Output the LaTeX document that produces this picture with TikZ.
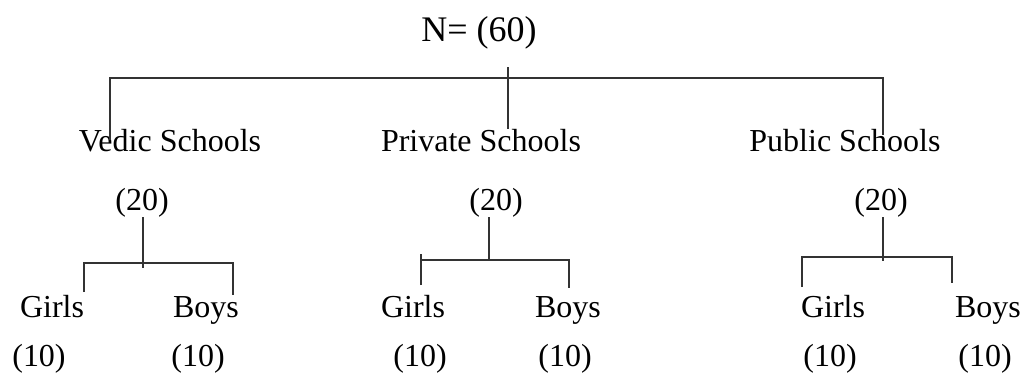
\documentclass[tikz,border=0pt]{standalone}
\usepackage{fontspec}
\setmainfont{Liberation Serif}
\usepackage{tikz}
\usetikzlibrary{calc, positioning}

\begin{document}
\begin{tikzpicture}[x=1pt, y=-1pt,
    lbl/.style={font=\fontsize{32}{36}\selectfont, inner sep=0pt, anchor=base},
    link/.style={draw=black!80, line width=1.2pt}]
    \useasboundingbox (0,0) rectangle (1021,376);

    % Tổng số mẫu
    \node[lbl, font=\fontsize{36}{40}\selectfont] (root) at (479,41) {N= (60)};

    % Ba loại trường
    \node[lbl] (vedic) at (170,151) {Vedic Schools};
    \node[lbl] (private) at (481,151) {Private Schools};
    \node[lbl] (public) at (845,151) {Public Schools};

    \node[lbl] (v20) at (142,210) {(20)};
    \node[lbl] (p20) at (496,210) {(20)};
    \node[lbl] (u20) at (881,210) {(20)};

    % Nam và nữ
    \node[lbl] (vg) at (52,317) {Girls};
    \node[lbl] (vb) at (206,317) {Boys};
    \node[lbl] (pg) at (413,317) {Girls};
    \node[lbl] (pb) at (568,317) {Boys};
    \node[lbl] (ug) at (833,317) {Girls};
    \node[lbl] (ub) at (988,317) {Boys};

    \node[lbl] (vg10) at (39,366) {(10)};
    \node[lbl] (vb10) at (198,366) {(10)};
    \node[lbl] (pg10) at (420,366) {(10)};
    \node[lbl] (pb10) at (565,366) {(10)};
    \node[lbl] (ug10) at (830,366) {(10)};
    \node[lbl] (ub10) at (985,366) {(10)};

    % Nhánh trên cùng
    \coordinate (rstem) at (508,67);
    \coordinate (topbar) at (508,78);
    \coordinate (lend) at (110,140);
    \coordinate (rend) at (883,135);
    \draw[link] (rstem) -- (rstem |- private.north);
    \draw[link] (lend) |- (rend |- topbar) -- (rend);

    % Nhánh Vedic
    \coordinate (vbar) at (143,263);
    \coordinate (vl) at (84,292);
    \coordinate (vr) at (233,295);
    \draw[link] (vbar |- v20.south) -- ([yshift=-5pt]vbar);
    \draw[link] (vl) |- (vbar) -| (vr);

    % Nhánh Private
    \coordinate (pbar) at (489,260);
    \coordinate (pl) at (421,285);
    \coordinate (pr) at (569,288);
    \draw[link] (pbar |- p20.south) -- (pbar);
    \draw[link] (pl) -- ([yshift=6pt]pl |- pbar);
    \draw[link] (pl |- pbar) -| (pr);

    % Nhánh Public
    \coordinate (ubar) at (883,257);
    \coordinate (ul) at (802,287);
    \coordinate (ur) at (952,283);
    \draw[link] (ubar |- u20.south) -- ([yshift=-4pt]ubar);
    \draw[link] (ul) |- (ubar) -| (ur);
\end{tikzpicture}
\end{document}
